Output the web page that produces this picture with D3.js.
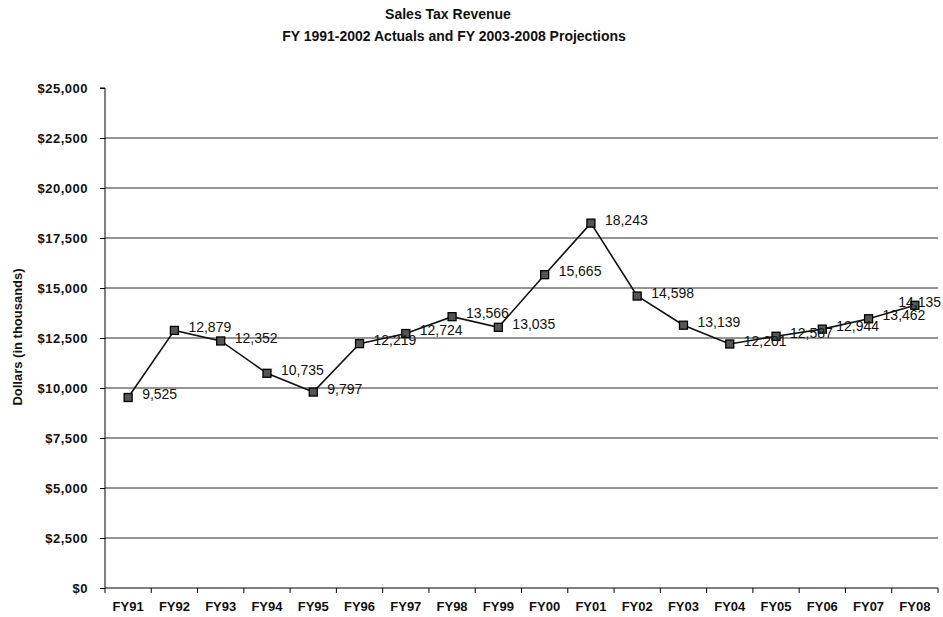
<!DOCTYPE html>
<html>
<head>
<meta charset="utf-8">
<script src="https://cdn.jsdelivr.net/npm/d3@7"></script>
<style>
  html, body { margin: 0; padding: 0; background: #fff; }
  svg { display: block; font-family: "Liberation Sans", Arial, sans-serif; }
</style>
</head>
<body>
<svg id="chart" width="943" height="617"></svg>
<script>
// Sales tax revenue, dollars in thousands
const years = ["FY91","FY92","FY93","FY94","FY95","FY96","FY97","FY98","FY99",
               "FY00","FY01","FY02","FY03","FY04","FY05","FY06","FY07","FY08"];
const revenue = [9525, 12879, 12352, 10735, 9797, 12219, 12724, 13566, 13035,
                 15665, 18243, 14598, 13139, 12201, 12587, 12944, 13462, 14135];
const yTicks = [0, 2500, 5000, 7500, 10000, 12500, 15000, 17500, 20000, 22500, 25000];

const svg = d3.select("#chart");
const width = 943;
const plotLeft = 105, plotRight = 938, plotTop = 88, plotBottom = 588;

const x = d3.scaleBand().domain(years).range([plotLeft, plotRight]).padding(0);
const y = d3.scaleLinear().domain([0, 25000]).range([plotBottom, plotTop]);
const cx = d => x(d) + x.bandwidth() / 2;

// Titles
const title = svg.append("g").attr("font-weight", "bold").attr("font-size", 14)
  .attr("text-anchor", "middle").attr("fill", "#111");
title.append("text").attr("x", 448).attr("y", 19).text("Sales Tax Revenue");
title.append("text").attr("x", 454).attr("y", 41)
  .text("FY 1991-2002 Actuals and FY 2003-2008 Projections");

// Horizontal gridlines (none at the top of the scale)
svg.append("g").selectAll("line")
  .data(yTicks.filter(t => t > 0 && t < 25000))
  .join("line")
  .attr("x1", plotLeft).attr("x2", plotRight)
  .attr("y1", d => y(d)).attr("y2", d => y(d))
  .attr("stroke", "#2a2a2a").attr("stroke-width", 1);

// Y axis
const yAxis = svg.append("g")
  .attr("transform", `translate(${plotLeft},0)`)
  .call(d3.axisLeft(y).tickValues(yTicks).tickSize(5).tickPadding(12)
    .tickFormat(d => "$" + d3.format(",")(d)));
yAxis.select(".domain").attr("stroke", "#000").attr("d", `M-5,${plotTop}H0V${plotBottom}`);
yAxis.selectAll(".tick line").attr("stroke", "#000");
yAxis.selectAll(".tick text")
  .attr("font-family", "Liberation Sans, Arial, sans-serif")
  .attr("font-size", 13).attr("font-weight", "bold").attr("fill", "#111")
  .attr("letter-spacing", 0.5);

// X axis with ticks at category boundaries
const xAxis = svg.append("g").attr("transform", `translate(0,${plotBottom})`);
xAxis.append("line").attr("x1", plotLeft).attr("x2", plotRight)
  .attr("y1", 0).attr("y2", 0).attr("stroke", "#000");
xAxis.selectAll("line.b")
  .data(years.map(d => x(d)).concat([plotRight]))
  .join("line").attr("class", "b")
  .attr("x1", d => d).attr("x2", d => d)
  .attr("y1", 0).attr("y2", 5).attr("stroke", "#000");
xAxis.selectAll("text")
  .data(years).join("text")
  .attr("x", d => cx(d)).attr("y", 23)
  .attr("text-anchor", "middle")
  .attr("font-size", 13).attr("font-weight", "bold").attr("fill", "#111")
  .text(d => d);

// Y axis title
svg.append("text")
  .attr("transform", `translate(22,337) rotate(-90)`)
  .attr("text-anchor", "middle")
  .attr("font-size", 13).attr("font-weight", "bold").attr("fill", "#111")
  .text("Dollars (in thousands)");

// Revenue line
const pts = years.map((d, i) => ({ year: d, value: revenue[i] }));
svg.append("path")
  .datum(pts)
  .attr("fill", "none").attr("stroke", "#111").attr("stroke-width", 1.6)
  .attr("d", d3.line().x(d => cx(d.year)).y(d => y(d.value)));

// Square markers
svg.append("g").selectAll("rect")
  .data(pts).join("rect")
  .attr("x", d => cx(d.year) - 4).attr("y", d => y(d.value) - 4)
  .attr("width", 8).attr("height", 8)
  .attr("fill", "#555").attr("stroke", "#000").attr("stroke-width", 1.3);

// Value labels, pulled back inside the canvas if they would run past the edge
svg.append("g").selectAll("text")
  .data(pts).join("text")
  .attr("x", d => cx(d.year) + 14).attr("y", d => y(d.value) - 2)
  .attr("dominant-baseline", "middle")
  .attr("font-size", 14).attr("fill", "#111")
  .text(d => d3.format(",")(d.value))
  .each(function () {
    const el = d3.select(this);
    const w = this.getComputedTextLength();
    const x0 = +el.attr("x");
    if (x0 + w > width - 2) el.attr("x", width - 2 - w);
  });
</script>
</body>
</html>
